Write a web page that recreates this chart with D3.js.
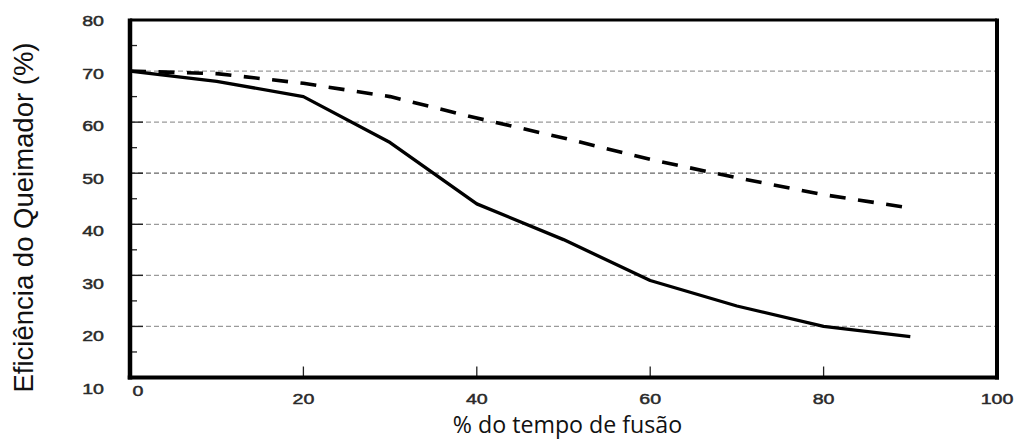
<!DOCTYPE html>
<html>
<head>
<meta charset="utf-8">
<script src="https://cdn.jsdelivr.net/npm/d3@7"></script>
<style>
  html, body { margin: 0; padding: 0; background: #fff; }
  svg { display: block; }
</style>
</head>
<body>
<svg id="chart" width="1016" height="439"></svg>
<script>
// ---- data ----
const xValues = [0, 10, 20, 30, 40, 50, 60, 70, 80, 90];
const solidSeries = [70, 68, 65, 56, 44, 37, 29, 24, 20, 18];
const dashedSeries = [70, 69.5, 67.6, 65, 60.8, 56.9, 52.7, 49.1, 45.8, 43.2];
const yTickValues = [10, 20, 30, 40, 50, 60, 70, 80];
const yMinorTicks = [15, 25, 35, 45, 55, 65, 75];
const yGridValues = [20, 30, 40, 50, 60, 70];
const xTickValues = [0, 20, 40, 60, 80, 100];
const xInnerTicks = [20, 40, 60, 80];
const xTitle = "% do tempo de fusão";
const yTitle = "Eficiência do Queimador (%)";

// ---- layout ----
const L = 130, R = 997, T = 20, B = 377.5;
const x = d3.scaleLinear().domain([0, 100]).range([L, R]);
const y = d3.scaleLinear().domain([10, 80]).range([B, T]);
// the tick labels of the source sit on a slightly wider spacing than the grid
const yLab = d3.scaleLinear().domain([10, 80]).range([389, 21]);

const svg = d3.select("#chart");

// gridlines
const grid = svg.append("g");
grid.selectAll("line").data(yGridValues).join("line")
  .attr("x1", L).attr("x2", R)
  .attr("y1", d => y(d)).attr("y2", d => y(d))
  .attr("stroke", d => d === 50 ? "#666" : "#9a9a9a")
  .attr("stroke-width", 1.3)
  .attr("stroke-dasharray", "5,3");

// major y ticks (inward, solid)
svg.append("g").selectAll("line").data(yGridValues).join("line")
  .attr("x1", L).attr("x2", L + 13)
  .attr("y1", d => y(d)).attr("y2", d => y(d))
  .attr("stroke", "#222").attr("stroke-width", 1.4);

// minor y ticks
svg.append("g").selectAll("line").data(yMinorTicks).join("line")
  .attr("x1", L).attr("x2", L + 7)
  .attr("y1", d => y(d)).attr("y2", d => y(d))
  .attr("stroke", "#222").attr("stroke-width", 1.3);

// x ticks (inward)
svg.append("g").selectAll("line").data(xInnerTicks).join("line")
  .attr("x1", d => x(d)).attr("x2", d => x(d))
  .attr("y1", B).attr("y2", B - 11)
  .attr("stroke", "#222").attr("stroke-width", 1.3);

// lines
const lineGen = d3.line().x((d, i) => x(xValues[i])).y(d => y(d));

svg.append("path").datum(dashedSeries)
  .attr("d", lineGen)
  .attr("fill", "none").attr("stroke", "#000")
  .attr("stroke-width", 3.6)
  .attr("stroke-dasharray", "16,12.5")
  .attr("stroke-linejoin", "round");

svg.append("path").datum(solidSeries)
  .attr("d", lineGen)
  .attr("fill", "none").attr("stroke", "#000")
  .attr("stroke-width", 3.3)
  .attr("stroke-linejoin", "round");

// frame
const frame = svg.append("g").attr("stroke", "#000").attr("fill", "none");
frame.append("line").attr("x1", L).attr("x2", R).attr("y1", y(80)).attr("y2", y(80)).attr("stroke-width", 3);
frame.append("line").attr("x1", R).attr("x2", R).attr("y1", T - 1.5).attr("y2", B + 2).attr("stroke-width", 4);
frame.append("line").attr("x1", L - 2.25).attr("x2", R + 2).attr("y1", B).attr("y2", B).attr("stroke-width", 4);
frame.append("line").attr("x1", L).attr("x2", L).attr("y1", T - 1.5).attr("y2", B + 2).attr("stroke-width", 4.5);

// tick label styling
function tickText(sel) {
  sel.attr("dy", "0.36em")
    .attr("font-family", "Liberation Sans, Arial, sans-serif")
    .attr("font-size", 14)
    .attr("fill", "#2a2a2a")
    .attr("stroke", "#2a2a2a")
    .attr("stroke-width", 0.45)
    .text(d => d);
}

// y tick labels
svg.append("g").selectAll("text").data(yTickValues).join("text")
  .attr("transform", d => `translate(104,${yLab(d)}) scale(1.4,1)`)
  .attr("text-anchor", "end")
  .call(tickText);

// x tick labels
svg.append("g").selectAll("text").data(xTickValues).join("text")
  .attr("transform", d => d === 0
      ? `translate(${x(d) + 8},${yLab(10) + 2}) scale(1.4,1)`
      : `translate(${x(d)},${399}) scale(1.4,1)`)
  .attr("text-anchor", "middle")
  .call(tickText);

// axis titles
svg.append("text")
  .attr("x", 567.5).attr("y", 432.5)
  .attr("text-anchor", "middle")
  .attr("font-family", "Open Sans, Lato, sans-serif")
  .attr("font-size", 23.2)
  .attr("fill", "#111")
  .text(xTitle);

svg.append("text")
  .attr("transform", "translate(33,217.5) rotate(-90)")
  .attr("text-anchor", "middle")
  .attr("font-family", "Liberation Sans, Arial, sans-serif")
  .attr("font-size", 27.5)
  .attr("fill", "#111")
  .text(yTitle);
</script>
</body>
</html>
